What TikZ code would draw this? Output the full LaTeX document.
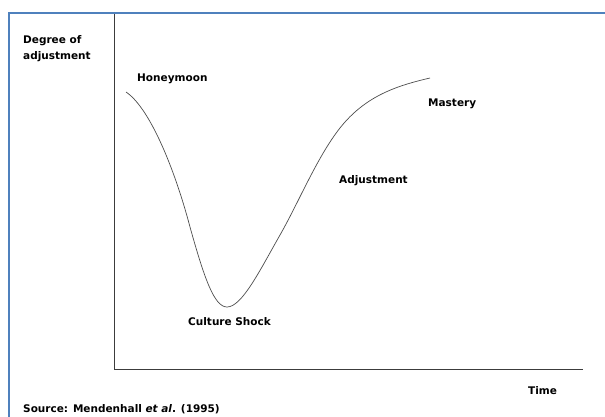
\documentclass[tikz,border=0pt]{standalone}
\usepackage{fontspec}
\setmainfont{DejaVu Sans}
\usepackage{tikz}
\usetikzlibrary{positioning}
\definecolor{frameblue}{RGB}{79,129,189}
\definecolor{axisgray}{RGB}{60,60,60}

\begin{document}
\begin{tikzpicture}[x=1pt,y=-1pt,
	lbl/.style={font=\fontsize{10.5}{12}\selectfont\bfseries,inner sep=0pt,anchor=base west}]
	\useasboundingbox (0,0) rectangle (605,416);
	\clip (0,0) rectangle (605,416);
		% frame
		\draw[frameblue,line width=2pt] (9,430) -- (9,13) -- (620,13);
		% axes
		\coordinate (y top) at (114,14);
		\coordinate (origin) at (114,369);
		\coordinate (x end) at (583,369);
		\draw[axisgray,line width=0.8pt] (y top) -- (origin) -- (x end);
		% adjustment curve
		\coordinate (start) at (126,92);
		\coordinate (bottom) at (227,307);
		\coordinate (finish) at (430,78);
		\draw[black!70,line width=0.7pt] (start) .. controls (150,108) and (175,170) .. (190,227)
			.. controls (204,277) and (214,307) .. (bottom)
			.. controls (242,307) and (260,270) .. (280,235)
			.. controls (300,200) and (320,150) .. (345,122)
			.. controls (370,94) and (400,85) .. (finish);
		% labels
		\node[lbl] (degree) at (23,43) {Degree of};
		\node[lbl] (adj) at (23,59) {adjustment};
		\node[lbl] (honeymoon) at (137,81) {Honeymoon};
		\node[lbl] (shock) at (188,325) {Culture Shock};
		\node[lbl] (adjustment) at (339,183) {Adjustment};
		\node[lbl] (mastery) at (428,106) {Mastery};
		\node[lbl] (time) at (528,394) {Time};
		\node[lbl] (source) at (23,412) {Source: Mendenhall \textit{et al}. (1995)};
\end{tikzpicture}
\end{document}
